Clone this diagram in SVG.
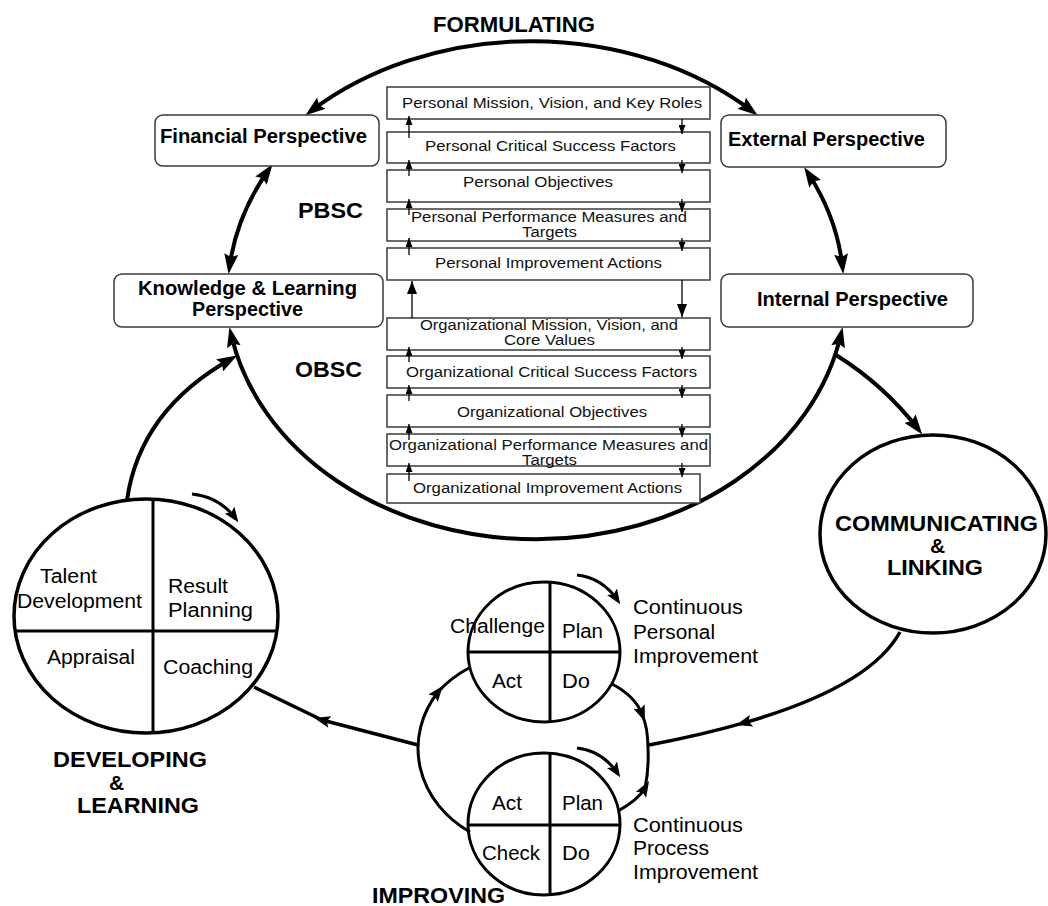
<svg xmlns="http://www.w3.org/2000/svg" width="1048" height="906" viewBox="0 0 1048 906">
  <style>
    .bg { fill: #ffffff; }
    .persp { fill: #ffffff; stroke: #3a3a3a; stroke-width: 1.5; }
    .stack { fill: #ffffff; stroke: #3a3a3a; stroke-width: 1.5; }
    .ring { fill: #ffffff; stroke: #000; stroke-width: 3.5; }
    .pdca { fill: none; stroke: #000; stroke-width: 3; }
    .divider { stroke: #000; stroke-width: 3; fill: none; }
    .main { fill: none; stroke: #000; stroke-width: 4; }
    .flow { fill: none; stroke: #000; stroke-width: 3.5; }
    .loop { fill: none; stroke: #000; stroke-width: 3; }
    .curl { fill: none; stroke: #000; stroke-width: 3; }
    .link { fill: none; stroke: #000; stroke-width: 1.3; }
    text { font-family: "Liberation Sans", Arial, sans-serif; fill: #000; }
    .bold-lg { font-size: 22px; font-weight: bold; }
    .bold-amp { font-size: 21px; font-weight: bold; }
    .bold-md { font-size: 20px; font-weight: bold; }
    .plain { font-size: 20px; }
    .small { font-size: 15.5px; fill: #111; }
    .small2 { font-size: 14px; fill: #111; }
  </style>
  <defs>
    <marker id="arrowBig" viewBox="0 0 20 14" refX="13" refY="7" markerWidth="20" markerHeight="14" markerUnits="userSpaceOnUse" orient="auto-start-reverse">
      <path d="M0,0 L20,7 L0,14 L3,7 z" fill="#000"/>
    </marker>
    <marker id="arrowMid" viewBox="0 0 16 12" refX="8" refY="6" markerWidth="16" markerHeight="12" markerUnits="userSpaceOnUse" orient="auto">
      <path d="M0,0 L16,6 L0,12 L3,6 z" fill="#000"/>
    </marker>
    <marker id="arrowCurl" viewBox="0 0 15 12" refX="11" refY="6" markerWidth="15" markerHeight="12" markerUnits="userSpaceOnUse" orient="auto">
      <path d="M0,0 L15,6 L0,12 L3,6 z" fill="#000"/>
    </marker>
    <marker id="arrowSmall" viewBox="0 0 9 7" refX="9" refY="3.5" markerWidth="9" markerHeight="7" markerUnits="userSpaceOnUse" orient="auto">
      <path d="M0,0 L9,3.5 L0,7 z" fill="#000"/>
    </marker>
    <marker id="arrowStack" viewBox="0 0 13 10" refX="13" refY="5" markerWidth="13" markerHeight="10" markerUnits="userSpaceOnUse" orient="auto">
      <path d="M0,0 L13,5 L0,10 z" fill="#000"/>
    </marker>
  </defs>

  <rect class="bg" x="0" y="0" width="1048" height="906"/>

  <!-- connectors -->
  <g id="connectors">
    <!-- outer scorecard ring, split into four double-headed arcs -->
    <path class="main" d="M311,111 A318,250 0 0 1 752,111" marker-start="url(#arrowBig)" marker-end="url(#arrowBig)"/>
    <path class="main" d="M268.5,170 A310,250 0 0 0 229.5,267" marker-start="url(#arrowBig)" marker-end="url(#arrowBig)"/>
    <path class="main" d="M808,173 A310,250 0 0 1 842.5,267" marker-start="url(#arrowBig)" marker-end="url(#arrowBig)"/>
    <path class="main" d="M231,334 A310,250 0 0 0 841,334" marker-start="url(#arrowBig)" marker-end="url(#arrowBig)"/>

    <!-- developing -> knowledge -->
    <path class="main" d="M127,500 Q140,410 231,359" marker-end="url(#arrowBig)"/>
    <!-- internal -> communicating -->
    <path class="main" d="M836,355 Q884,385 918,429" marker-end="url(#arrowBig)"/>

    <!-- communicating -> improving -->
    <path class="flow" d="M900,632 Q870,686.75 743.8,722.9" marker-end="url(#arrowMid)"/>
    <path class="flow" d="M743.8,722.9 Q701.75,735 649,745"/>

    <!-- improving -> developing -->
    <path class="flow" d="M418,745 L322,720" marker-end="url(#arrowMid)"/>
    <path class="flow" d="M322,720 L254,687"/>

    <!-- improvement loop joining the two cycles -->
    <path class="loop" d="M470,832 A115,100 0 0 1 438,692" marker-end="url(#arrowMid)"/>
    <path class="loop" d="M438,692 A115,100 0 0 1 469,668"/>
    <path class="loop" d="M612,684 Q635,696 642,714" marker-end="url(#arrowMid)"/>
    <path class="loop" d="M642,714 Q648,728 648,748"/>
    <path class="loop" d="M618,811 Q638,800 645,788" marker-end="url(#arrowMid)"/>
    <path class="loop" d="M645,788 Q649,770 648,748"/>

    <!-- rotation cues above the cycles -->
    <path class="curl" d="M192,494 Q220,497 236,519" marker-end="url(#arrowCurl)"/>
    <path class="curl" d="M577,575 Q603,578 618,601" marker-end="url(#arrowCurl)"/>
    <path class="curl" d="M577,748 Q603,751 618,774" marker-end="url(#arrowCurl)"/>
  </g>

  <!-- perspectives -->
  <g id="financial">
    <rect class="persp" x="155" y="115" width="224" height="51" rx="8"/>
    <text class="bold-md" x="160" y="143" textLength="207" lengthAdjust="spacingAndGlyphs">Financial Perspective</text>
  </g>
  <g id="knowledge">
    <rect class="persp" x="114" y="274" width="269" height="53" rx="8"/>
    <text class="bold-md" x="138" y="295" textLength="219" lengthAdjust="spacingAndGlyphs">Knowledge &amp; Learning</text>
    <text class="bold-md" x="192" y="316" textLength="111" lengthAdjust="spacingAndGlyphs">Perspective</text>
  </g>
  <g id="external">
    <rect class="persp" x="721" y="115" width="225" height="52" rx="8"/>
    <text class="bold-md" x="728" y="146" textLength="197" lengthAdjust="spacingAndGlyphs">External Perspective</text>
  </g>
  <g id="internal">
    <rect class="persp" x="721" y="274" width="252" height="53" rx="8"/>
    <text class="bold-md" x="757" y="306" textLength="191" lengthAdjust="spacingAndGlyphs">Internal Perspective</text>
  </g>

  <!-- cascade of personal and organizational scorecard steps -->
  <g id="scorecard-stack">
    <g id="p-mission">
      <rect class="stack" x="387" y="87" width="323" height="32"/>
      <text class="small" x="402" y="108" textLength="300" lengthAdjust="spacingAndGlyphs">Personal Mission, Vision, and Key Roles</text>
    </g>
    <g id="p-csf">
      <rect class="stack" x="387" y="132" width="323" height="31"/>
      <text class="small" x="425" y="151" textLength="251" lengthAdjust="spacingAndGlyphs">Personal Critical Success Factors</text>
    </g>
    <g id="p-objectives">
      <rect class="stack" x="387" y="170" width="323" height="32"/>
      <text class="small" x="463" y="187" textLength="150" lengthAdjust="spacingAndGlyphs">Personal Objectives</text>
    </g>
    <g id="p-measures">
      <rect class="stack" x="387" y="209" width="323" height="32"/>
      <text class="small2" x="411" y="222" textLength="276" lengthAdjust="spacingAndGlyphs">Personal Performance Measures and</text>
      <text class="small2" x="522" y="237" textLength="55" lengthAdjust="spacingAndGlyphs">Targets</text>
    </g>
    <g id="p-actions">
      <rect class="stack" x="387" y="248" width="323" height="32"/>
      <text class="small" x="435" y="268" textLength="227" lengthAdjust="spacingAndGlyphs">Personal Improvement Actions</text>
    </g>
    <g id="o-mission">
      <rect class="stack" x="387" y="318" width="323" height="32"/>
      <text class="small2" x="420" y="330" textLength="258" lengthAdjust="spacingAndGlyphs">Organizational Mission, Vision, and</text>
      <text class="small2" x="504" y="345" textLength="91" lengthAdjust="spacingAndGlyphs">Core Values</text>
    </g>
    <g id="o-csf">
      <rect class="stack" x="387" y="356" width="323" height="32"/>
      <text class="small" x="406" y="377" textLength="291" lengthAdjust="spacingAndGlyphs">Organizational Critical Success Factors</text>
    </g>
    <g id="o-objectives">
      <rect class="stack" x="387" y="395" width="323" height="32"/>
      <text class="small" x="457" y="417" textLength="190" lengthAdjust="spacingAndGlyphs">Organizational Objectives</text>
    </g>
    <g id="o-measures">
      <rect class="stack" x="387" y="434" width="323" height="32"/>
      <text class="small2" x="389" y="450" textLength="319" lengthAdjust="spacingAndGlyphs">Organizational Performance Measures and</text>
      <text class="small2" x="522" y="465" textLength="55" lengthAdjust="spacingAndGlyphs">Targets</text>
    </g>
    <g id="o-actions">
      <rect class="stack" x="387" y="474" width="313" height="29"/>
      <text class="small" x="413" y="493" textLength="269" lengthAdjust="spacingAndGlyphs">Organizational Improvement Actions</text>
    </g>
  </g>

  <!-- up/down links between the cascade steps -->
  <g id="stack-links">
    <path class="link" d="M409,138 V116" marker-end="url(#arrowSmall)"/>
    <path class="link" d="M409,176 V160" marker-end="url(#arrowSmall)"/>
    <path class="link" d="M409,215 V199" marker-end="url(#arrowSmall)"/>
    <path class="link" d="M409,255 V238" marker-end="url(#arrowSmall)"/>
    <path class="link" d="M412,318 V281" marker-end="url(#arrowStack)"/>
    <path class="link" d="M409,362 V347" marker-end="url(#arrowSmall)"/>
    <path class="link" d="M409,401 V385" marker-end="url(#arrowSmall)"/>
    <path class="link" d="M409,440 V424" marker-end="url(#arrowSmall)"/>
    <path class="link" d="M409,481 V463" marker-end="url(#arrowSmall)"/>

    <path class="link" d="M682,119 V134" marker-end="url(#arrowSmall)"/>
    <path class="link" d="M682,160 V173" marker-end="url(#arrowSmall)"/>
    <path class="link" d="M682,199 V212" marker-end="url(#arrowSmall)"/>
    <path class="link" d="M682,238 V251" marker-end="url(#arrowSmall)"/>
    <path class="link" d="M682,280 V317" marker-end="url(#arrowStack)"/>
    <path class="link" d="M682,347 V359" marker-end="url(#arrowSmall)"/>
    <path class="link" d="M682,385 V398" marker-end="url(#arrowSmall)"/>
    <path class="link" d="M682,424 V437" marker-end="url(#arrowSmall)"/>
    <path class="link" d="M682,463 V477" marker-end="url(#arrowSmall)"/>
  </g>

  <!-- ring labels -->
  <g id="labels">
    <text class="bold-lg" x="433" y="32" textLength="162" lengthAdjust="spacingAndGlyphs">FORMULATING</text>
    <text class="bold-lg" x="298" y="218" textLength="65" lengthAdjust="spacingAndGlyphs">PBSC</text>
    <text class="bold-lg" x="295" y="377" textLength="67" lengthAdjust="spacingAndGlyphs">OBSC</text>
  </g>

  <!-- communicating & linking -->
  <g id="communicating">
    <ellipse class="ring" cx="933" cy="534" rx="113" ry="99"/>
    <text class="bold-lg" x="835" y="531" textLength="203" lengthAdjust="spacingAndGlyphs">COMMUNICATING</text>
    <text class="bold-amp" x="930" y="553">&amp;</text>
    <text class="bold-lg" x="887" y="575" textLength="96" lengthAdjust="spacingAndGlyphs">LINKING</text>
  </g>

  <!-- developing & learning cycle -->
  <g id="developing">
    <ellipse class="ring" cx="146" cy="616" rx="132" ry="117"/>
    <line class="divider" x1="153" y1="499" x2="153" y2="733"/>
    <line class="divider" x1="15" y1="631" x2="277" y2="631"/>
    <text class="plain" x="40" y="583" textLength="57" lengthAdjust="spacingAndGlyphs">Talent</text>
    <text class="plain" x="17" y="608" textLength="125" lengthAdjust="spacingAndGlyphs">Development</text>
    <text class="plain" x="168" y="593" textLength="60" lengthAdjust="spacingAndGlyphs">Result</text>
    <text class="plain" x="168" y="617" textLength="85" lengthAdjust="spacingAndGlyphs">Planning</text>
    <text class="plain" x="47" y="664" textLength="88" lengthAdjust="spacingAndGlyphs">Appraisal</text>
    <text class="plain" x="163" y="674" textLength="90" lengthAdjust="spacingAndGlyphs">Coaching</text>
    <text class="bold-lg" x="53" y="767" textLength="154" lengthAdjust="spacingAndGlyphs">DEVELOPING</text>
    <text class="bold-amp" x="109" y="790">&amp;</text>
    <text class="bold-lg" x="77" y="813" textLength="122" lengthAdjust="spacingAndGlyphs">LEARNING</text>
  </g>

  <!-- personal improvement cycle -->
  <g id="personal-cycle">
    <ellipse class="pdca" cx="544" cy="652" rx="76" ry="70" fill="#fff"/>
    <line class="divider" x1="550" y1="582" x2="550" y2="722"/>
    <line class="divider" x1="468" y1="652" x2="620" y2="652"/>
    <text class="plain" x="450" y="633" textLength="95" lengthAdjust="spacingAndGlyphs">Challenge</text>
    <text class="plain" x="562" y="638" textLength="41" lengthAdjust="spacingAndGlyphs">Plan</text>
    <text class="plain" x="492" y="688" textLength="30" lengthAdjust="spacingAndGlyphs">Act</text>
    <text class="plain" x="562" y="688" textLength="28" lengthAdjust="spacingAndGlyphs">Do</text>
    <text class="plain" x="633" y="614" textLength="110" lengthAdjust="spacingAndGlyphs">Continuous</text>
    <text class="plain" x="633" y="639" textLength="82" lengthAdjust="spacingAndGlyphs">Personal</text>
    <text class="plain" x="633" y="663" textLength="125" lengthAdjust="spacingAndGlyphs">Improvement</text>
  </g>

  <!-- process improvement cycle -->
  <g id="process-cycle">
    <ellipse class="pdca" cx="544" cy="824" rx="76" ry="71" fill="#fff"/>
    <line class="divider" x1="550" y1="753" x2="550" y2="895"/>
    <line class="divider" x1="468" y1="825" x2="620" y2="825"/>
    <text class="plain" x="492" y="810" textLength="30" lengthAdjust="spacingAndGlyphs">Act</text>
    <text class="plain" x="562" y="810" textLength="41" lengthAdjust="spacingAndGlyphs">Plan</text>
    <text class="plain" x="482" y="860" textLength="58" lengthAdjust="spacingAndGlyphs">Check</text>
    <text class="plain" x="562" y="860" textLength="28" lengthAdjust="spacingAndGlyphs">Do</text>
    <text class="plain" x="633" y="832" textLength="110" lengthAdjust="spacingAndGlyphs">Continuous</text>
    <text class="plain" x="633" y="855" textLength="76" lengthAdjust="spacingAndGlyphs">Process</text>
    <text class="plain" x="633" y="879" textLength="125" lengthAdjust="spacingAndGlyphs">Improvement</text>
  </g>

  <g id="improving-label">
    <text class="bold-lg" x="372" y="903" textLength="133" lengthAdjust="spacingAndGlyphs">IMPROVING</text>
  </g>
</svg>
